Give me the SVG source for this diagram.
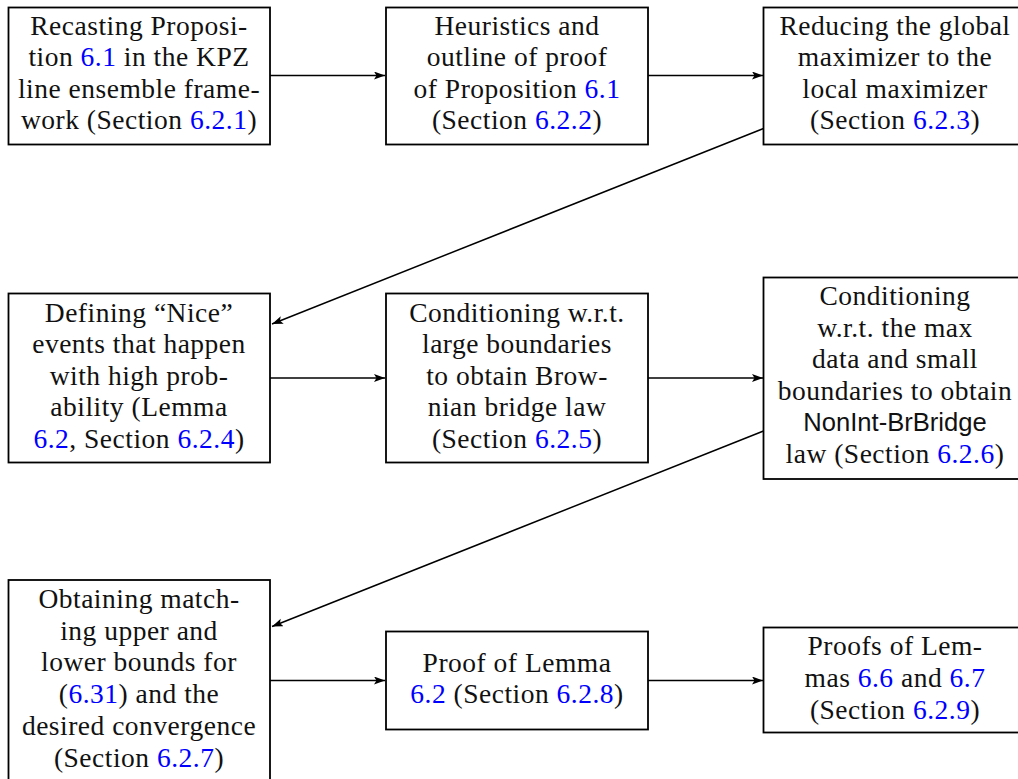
<svg xmlns="http://www.w3.org/2000/svg" width="1018" height="779" viewBox="0 0 1018 779">
<style>
.box{fill:#fff;stroke:#000;stroke-width:1.8}
.t{font-family:"Liberation Serif","Times New Roman",serif;font-size:27.5px;letter-spacing:0.5px;fill:#111;text-anchor:middle}
.s{font-family:"Liberation Sans",Arial,sans-serif;font-size:25.6px;letter-spacing:0}
.b{fill:#0000ff}
.c{fill:none;stroke:#000;stroke-width:1.5}
</style>
<defs>
<marker id="ar" markerWidth="12" markerHeight="10" refX="11" refY="4" orient="auto" markerUnits="userSpaceOnUse">
<path d="M0,0 L11,4 L0,8 L2.5,4 Z" fill="#000"/>
</marker>
</defs>
<g id="connectors">
<line class="c" x1="270" y1="75.5" x2="385" y2="75.5" marker-end="url(#ar)"/>
<line class="c" x1="648" y1="75.5" x2="763" y2="75.5" marker-end="url(#ar)"/>
<line class="c" x1="763.5" y1="128.5" x2="272" y2="324" marker-end="url(#ar)"/>
<line class="c" x1="270" y1="378" x2="385" y2="378" marker-end="url(#ar)"/>
<line class="c" x1="648" y1="378" x2="763" y2="378" marker-end="url(#ar)"/>
<line class="c" x1="763.5" y1="431" x2="272" y2="626.5" marker-end="url(#ar)"/>
<line class="c" x1="270" y1="680.5" x2="385" y2="680.5" marker-end="url(#ar)"/>
<line class="c" x1="648" y1="680.5" x2="763" y2="680.5" marker-end="url(#ar)"/>
</g>
<g id="nodeA">
<rect class="box" x="8.5" y="7.5" width="261.5" height="137"/>
<text class="t" x="139" y="34.5">Recasting Proposi-</text>
<text class="t" x="139" y="66">tion <tspan class="b">6.1</tspan> in the KPZ</text>
<text class="t" x="139" y="97.5">line ensemble frame-</text>
<text class="t" x="139" y="129">work (Section <tspan class="b">6.2.1</tspan>)</text>
</g>
<g id="nodeB">
<rect class="box" x="386" y="7.5" width="262" height="137"/>
<text class="t" x="517" y="34.5">Heuristics and</text>
<text class="t" x="517" y="66">outline of proof</text>
<text class="t" x="517" y="97.5">of Proposition <tspan class="b">6.1</tspan></text>
<text class="t" x="517" y="129">(Section <tspan class="b">6.2.2</tspan>)</text>
</g>
<g id="nodeC">
<rect class="box" x="763.5" y="7.5" width="262" height="137"/>
<text class="t" x="895" y="34.5">Reducing the global</text>
<text class="t" x="895" y="66">maximizer to the</text>
<text class="t" x="895" y="97.5">local maximizer</text>
<text class="t" x="895" y="129">(Section <tspan class="b">6.2.3</tspan>)</text>
</g>
<g id="nodeD">
<rect class="box" x="8.5" y="293.5" width="261.5" height="169"/>
<text class="t" x="139" y="321.5">Defining “Nice”</text>
<text class="t" x="139" y="353">events that happen</text>
<text class="t" x="139" y="384.5">with high prob-</text>
<text class="t" x="139" y="416">ability (Lemma</text>
<text class="t" x="139" y="447.5"><tspan class="b">6.2</tspan>, Section <tspan class="b">6.2.4</tspan>)</text>
</g>
<g id="nodeE">
<rect class="box" x="386" y="293.5" width="262" height="169"/>
<text class="t" x="517" y="321.5">Conditioning w.r.t.</text>
<text class="t" x="517" y="353">large boundaries</text>
<text class="t" x="517" y="384.5">to obtain Brow-</text>
<text class="t" x="517" y="416">nian bridge law</text>
<text class="t" x="517" y="447.5">(Section <tspan class="b">6.2.5</tspan>)</text>
</g>
<g id="nodeF">
<rect class="box" x="763.5" y="277.5" width="262" height="201.5"/>
<text class="t" x="895" y="305">Conditioning</text>
<text class="t" x="895" y="336.5">w.r.t.  the max</text>
<text class="t" x="895" y="368">data and small</text>
<text class="t" x="895" y="399.5">boundaries to obtain</text>
<text class="t s" x="895" y="431">NonInt-BrBridge</text>
<text class="t" x="895" y="462.5">law (Section <tspan class="b">6.2.6</tspan>)</text>
</g>
<g id="nodeG">
<rect class="box" x="8.5" y="580" width="261.5" height="202"/>
<text class="t" x="139" y="608">Obtaining match-</text>
<text class="t" x="139" y="639.5">ing upper and</text>
<text class="t" x="139" y="671">lower bounds for</text>
<text class="t" x="139" y="702.5">(<tspan class="b">6.31</tspan>) and the</text>
<text class="t" x="139" y="734.5">desired convergence</text>
<text class="t" x="139" y="766.5">(Section <tspan class="b">6.2.7</tspan>)</text>
</g>
<g id="nodeH">
<rect class="box" x="386" y="631.5" width="262" height="98"/>
<text class="t" x="517" y="671.5">Proof of Lemma</text>
<text class="t" x="517" y="703"><tspan class="b">6.2</tspan> (Section <tspan class="b">6.2.8</tspan>)</text>
</g>
<g id="nodeI">
<rect class="box" x="763.5" y="627.5" width="262" height="105"/>
<text class="t" x="895" y="655">Proofs of Lem-</text>
<text class="t" x="895" y="686.5">mas <tspan class="b">6.6</tspan> and <tspan class="b">6.7</tspan></text>
<text class="t" x="895" y="718.5">(Section <tspan class="b">6.2.9</tspan>)</text>
</g>
</svg>
